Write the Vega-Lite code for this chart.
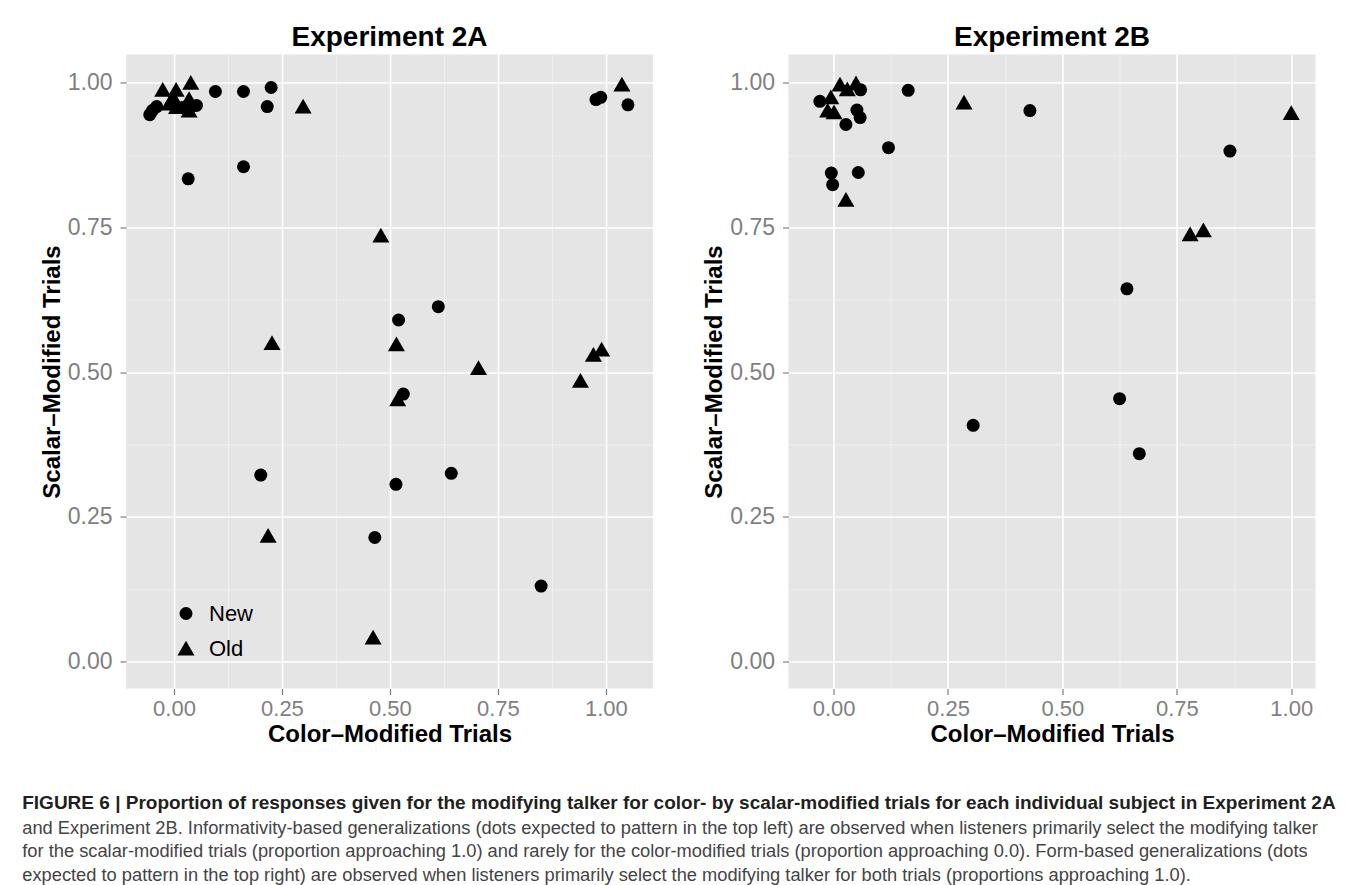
{
  "$schema": "https://vega.github.io/schema/vega-lite/v6.json",
  "background": "white",
  "padding": {"left": 22, "top": 23.5, "right": 10, "bottom": 0},
  "datasets": {
    "pts": [
      {"exp": "2A", "group": "New", "color": -0.056, "scalar": 0.945},
      {"exp": "2A", "group": "New", "color": -0.05, "scalar": 0.952},
      {"exp": "2A", "group": "New", "color": -0.04, "scalar": 0.959},
      {"exp": "2A", "group": "New", "color": 0.022, "scalar": 0.958},
      {"exp": "2A", "group": "New", "color": 0.052, "scalar": 0.961},
      {"exp": "2A", "group": "New", "color": 0.035, "scalar": 0.955},
      {"exp": "2A", "group": "New", "color": 0.096, "scalar": 0.985},
      {"exp": "2A", "group": "New", "color": 0.161, "scalar": 0.985},
      {"exp": "2A", "group": "New", "color": 0.225, "scalar": 0.992},
      {"exp": "2A", "group": "New", "color": 0.216, "scalar": 0.959},
      {"exp": "2A", "group": "New", "color": 0.033, "scalar": 0.834},
      {"exp": "2A", "group": "New", "color": 0.161, "scalar": 0.855},
      {"exp": "2A", "group": "New", "color": 0.977, "scalar": 0.971},
      {"exp": "2A", "group": "New", "color": 0.988, "scalar": 0.975},
      {"exp": "2A", "group": "New", "color": 1.051, "scalar": 0.962},
      {"exp": "2A", "group": "New", "color": 0.612, "scalar": 0.613},
      {"exp": "2A", "group": "New", "color": 0.52, "scalar": 0.59},
      {"exp": "2A", "group": "New", "color": 0.531, "scalar": 0.462},
      {"exp": "2A", "group": "New", "color": 0.514, "scalar": 0.306},
      {"exp": "2A", "group": "New", "color": 0.642, "scalar": 0.325},
      {"exp": "2A", "group": "New", "color": 0.465, "scalar": 0.214},
      {"exp": "2A", "group": "New", "color": 0.85, "scalar": 0.13},
      {"exp": "2A", "group": "New", "color": 0.201, "scalar": 0.322},
      {"exp": "2A", "group": "Old", "color": -0.026, "scalar": 0.988},
      {"exp": "2A", "group": "Old", "color": 0.005, "scalar": 0.988},
      {"exp": "2A", "group": "Old", "color": 0.039, "scalar": 1.0},
      {"exp": "2A", "group": "Old", "color": -0.011, "scalar": 0.964},
      {"exp": "2A", "group": "Old", "color": -0.002, "scalar": 0.975},
      {"exp": "2A", "group": "Old", "color": 0.035, "scalar": 0.972},
      {"exp": "2A", "group": "Old", "color": 0.035, "scalar": 0.952},
      {"exp": "2A", "group": "Old", "color": 0.006, "scalar": 0.958},
      {"exp": "2A", "group": "Old", "color": 0.299, "scalar": 0.959},
      {"exp": "2A", "group": "Old", "color": 1.037, "scalar": 0.997},
      {"exp": "2A", "group": "Old", "color": 0.479, "scalar": 0.736},
      {"exp": "2A", "group": "Old", "color": 0.515, "scalar": 0.548},
      {"exp": "2A", "group": "Old", "color": 0.705, "scalar": 0.507},
      {"exp": "2A", "group": "Old", "color": 0.99, "scalar": 0.539},
      {"exp": "2A", "group": "Old", "color": 0.971, "scalar": 0.53},
      {"exp": "2A", "group": "Old", "color": 0.941, "scalar": 0.485},
      {"exp": "2A", "group": "Old", "color": 0.518, "scalar": 0.453},
      {"exp": "2A", "group": "Old", "color": 0.227, "scalar": 0.55},
      {"exp": "2A", "group": "Old", "color": 0.218, "scalar": 0.217},
      {"exp": "2A", "group": "Old", "color": 0.461, "scalar": 0.041},
      {"exp": "2B", "group": "New", "color": -0.03, "scalar": 0.968},
      {"exp": "2B", "group": "New", "color": 0.163, "scalar": 0.987},
      {"exp": "2B", "group": "New", "color": 0.12, "scalar": 0.888},
      {"exp": "2B", "group": "New", "color": -0.005, "scalar": 0.844},
      {"exp": "2B", "group": "New", "color": -0.002, "scalar": 0.824},
      {"exp": "2B", "group": "New", "color": 0.054, "scalar": 0.845},
      {"exp": "2B", "group": "New", "color": 0.027, "scalar": 0.928},
      {"exp": "2B", "group": "New", "color": 0.051, "scalar": 0.953},
      {"exp": "2B", "group": "New", "color": 0.058, "scalar": 0.94},
      {"exp": "2B", "group": "New", "color": 0.059, "scalar": 0.988},
      {"exp": "2B", "group": "New", "color": 0.429, "scalar": 0.952},
      {"exp": "2B", "group": "New", "color": 0.866, "scalar": 0.882},
      {"exp": "2B", "group": "New", "color": 0.641, "scalar": 0.644},
      {"exp": "2B", "group": "New", "color": 0.625, "scalar": 0.454},
      {"exp": "2B", "group": "New", "color": 0.305, "scalar": 0.408},
      {"exp": "2B", "group": "New", "color": 0.668, "scalar": 0.359},
      {"exp": "2B", "group": "Old", "color": 0.014, "scalar": 0.997},
      {"exp": "2B", "group": "Old", "color": 0.049, "scalar": 0.999},
      {"exp": "2B", "group": "Old", "color": 0.03, "scalar": 0.989},
      {"exp": "2B", "group": "Old", "color": -0.006, "scalar": 0.975},
      {"exp": "2B", "group": "Old", "color": -0.013, "scalar": 0.952},
      {"exp": "2B", "group": "Old", "color": 0.001, "scalar": 0.949},
      {"exp": "2B", "group": "Old", "color": 0.027, "scalar": 0.798},
      {"exp": "2B", "group": "Old", "color": 0.285, "scalar": 0.966},
      {"exp": "2B", "group": "Old", "color": 1.0, "scalar": 0.948},
      {"exp": "2B", "group": "Old", "color": 0.779, "scalar": 0.738},
      {"exp": "2B", "group": "Old", "color": 0.808, "scalar": 0.745}
    ]
  },
  "title": {
    "text": ["FIGURE 6 | Proportion of responses given for the modifying talker for color- by scalar-modified trials for each individual subject in Experiment 2A"],
    "subtitle": [
      "and Experiment 2B. Informativity-based generalizations (dots expected to pattern in the top left) are observed when listeners primarily select the modifying talker",
      "for the scalar-modified trials (proportion approaching 1.0) and rarely for the color-modified trials (proportion approaching 0.0). Form-based generalizations (dots",
      "expected to pattern in the top right) are observed when listeners primarily select the modifying talker for both trials (proportions approaching 1.0)."
    ],
    "orient": "bottom",
    "anchor": "start",
    "dx": -18,
    "offset": 47,
    "font": "Liberation Sans",
    "fontSize": 19,
    "fontWeight": "bold",
    "lineHeight": 24,
    "color": "#231F20",
    "subtitleFont": "Liberation Sans",
    "subtitleFontSize": 18.3,
    "subtitleFontWeight": "normal",
    "subtitleLineHeight": 23.5,
    "subtitleColor": "#444444",
    "subtitlePadding": 7
  },
  "spacing": 49.5,
  "resolve": {"legend": {"shape": "independent"}},
  "hconcat": [
    {
      "width": 527,
      "height": 634,
      "title": {"text": "Experiment 2A"},
      "data": {"name": "pts"},
      "transform": [{"filter": "datum.exp === '2A'"}],
      "mark": {"type": "point", "filled": true, "opacity": 1, "color": "black", "size": 169, "strokeWidth": 0},
      "encoding": {
        "x": {
          "field": "color", "type": "quantitative", "title": "Color–Modified Trials",
          "scale": {"domain": [-0.111, 1.109], "nice": false, "zero": false},
          "axis": {
            "values": [0, 0.125, 0.25, 0.375, 0.5, 0.625, 0.75, 0.875, 1],
            "labelExpr": "round(datum.value*8)%2==1 ? '' : format(datum.value, '.2f')",
            "gridColor": {"condition": {"test": "round(datum.value*8)%2==1", "value": "#F2F2F2"}, "value": "#FFFFFF"},
            "gridWidth": {"condition": {"test": "round(datum.value*8)%2==1", "value": 0.8}, "value": 1.6},
            "tickColor": {"condition": {"test": "round(datum.value*8)%2==1", "value": "transparent"}, "value": "#7F7F7F"}
          }
        },
        "y": {
          "field": "scalar", "type": "quantitative", "title": "Scalar–Modified Trials",
          "scale": {"domain": [-0.047, 1.049], "nice": false, "zero": false},
          "axis": {
            "values": [0, 0.125, 0.25, 0.375, 0.5, 0.625, 0.75, 0.875, 1],
            "labelExpr": "round(datum.value*8)%2==1 ? '' : format(datum.value, '.2f')",
            "gridColor": {"condition": {"test": "round(datum.value*8)%2==1", "value": "#F2F2F2"}, "value": "#FFFFFF"},
            "gridWidth": {"condition": {"test": "round(datum.value*8)%2==1", "value": 0.8}, "value": 1.6},
            "tickColor": {"condition": {"test": "round(datum.value*8)%2==1", "value": "transparent"}, "value": "#7F7F7F"}
          }
        },
        "shape": {
          "field": "group", "type": "nominal",
          "scale": {"domain": ["New", "Old"], "range": ["circle", "M0,-1.2L1.31,1.07L-1.31,1.07Z"]},
          "legend": {
            "title": null, "orient": "none", "legendX": 49, "legendY": 548,
            "labelFontSize": 22, "labelColor": "black", "symbolSize": 169,
            "symbolFillColor": "black", "symbolStrokeWidth": 0, "rowPadding": 13,
            "labelOffset": 12, "padding": 0
          }
        }
      }
    },
    {
      "width": 527,
      "height": 634,
      "title": {"text": "Experiment 2B"},
      "data": {"name": "pts"},
      "transform": [{"filter": "datum.exp === '2B'"}],
      "mark": {"type": "point", "filled": true, "opacity": 1, "color": "black", "size": 169, "strokeWidth": 0},
      "encoding": {
        "x": {
          "field": "color", "type": "quantitative", "title": "Color–Modified Trials",
          "scale": {"domain": [-0.0985, 1.053], "nice": false, "zero": false},
          "axis": {
            "values": [0, 0.125, 0.25, 0.375, 0.5, 0.625, 0.75, 0.875, 1],
            "labelExpr": "round(datum.value*8)%2==1 ? '' : format(datum.value, '.2f')",
            "gridColor": {"condition": {"test": "round(datum.value*8)%2==1", "value": "#F2F2F2"}, "value": "#FFFFFF"},
            "gridWidth": {"condition": {"test": "round(datum.value*8)%2==1", "value": 0.8}, "value": 1.6},
            "tickColor": {"condition": {"test": "round(datum.value*8)%2==1", "value": "transparent"}, "value": "#7F7F7F"}
          }
        },
        "y": {
          "field": "scalar", "type": "quantitative", "title": "Scalar–Modified Trials",
          "scale": {"domain": [-0.047, 1.049], "nice": false, "zero": false},
          "axis": {
            "values": [0, 0.125, 0.25, 0.375, 0.5, 0.625, 0.75, 0.875, 1],
            "labelExpr": "round(datum.value*8)%2==1 ? '' : format(datum.value, '.2f')",
            "gridColor": {"condition": {"test": "round(datum.value*8)%2==1", "value": "#F2F2F2"}, "value": "#FFFFFF"},
            "gridWidth": {"condition": {"test": "round(datum.value*8)%2==1", "value": 0.8}, "value": 1.6},
            "tickColor": {"condition": {"test": "round(datum.value*8)%2==1", "value": "transparent"}, "value": "#7F7F7F"}
          }
        },
        "shape": {
          "field": "group", "type": "nominal",
          "scale": {"domain": ["New", "Old"], "range": ["circle", "M0,-1.2L1.31,1.07L-1.31,1.07Z"]},
          "legend": null
        }
      }
    }
  ],
  "config": {
    "font": "Liberation Sans",
    "view": {"fill": "#E5E5E5", "stroke": null},
    "axis": {
      "domain": false, "labelFontSize": 23, "labelColor": "#7F7F7F",
      "titleFontSize": 24, "titleFontWeight": "bold", "titleColor": "black",
      "labelPadding": 4, "tickSize": 6, "tickWidth": 1.2, "labelOverlap": false
    },
    "axisX": {"titlePadding": 3, "labelFontSize": 22},
    "axisY": {"titlePadding": 3, "labelPadding": 8},
    "title": {"fontSize": 28, "fontWeight": "bold", "color": "black", "offset": 3}
  }
}
